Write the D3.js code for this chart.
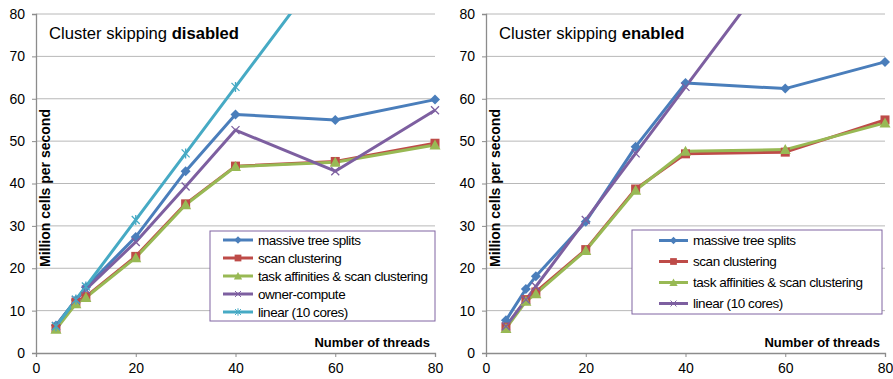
<!DOCTYPE html>
<html>
<head>
<meta charset="utf-8">
<script src="https://cdn.jsdelivr.net/npm/d3@7"></script>
<style>
  html, body { margin: 0; padding: 0; background: #fff; }
  svg { display: block; font-family: "Liberation Sans", Arial, sans-serif; }
</style>
</head>
<body>
<svg id="chart" width="893" height="379"></svg>
<script>
// Thread counts shared by both panels
const threads = [4, 8, 10, 20, 30, 40, 60, 80];
const xTicks = [0, 20, 40, 60, 80];
const yTicks = [0, 10, 20, 30, 40, 50, 60, 70, 80];

// Cluster skipping disabled
const disabledMassiveTreeSplits = [6.5, 12.5, 15.5, 27.4, 42.9, 56.3, 55.0, 59.8];
const disabledScanClustering    = [5.8, 12.0, 13.3, 22.8, 35.2, 44.1, 45.2, 49.5];
const disabledTaskAffinities    = [5.6, 11.6, 13.1, 22.5, 35.0, 44.0, 45.0, 49.1];
const disabledOwnerCompute      = [6.4, 12.5, 15.0, 26.2, 39.3, 52.6, 42.9, 57.3];
const disabledLinear            = [6.3, 12.6, 15.7, 31.4, 47.1, 62.8, 94.2, 125.6];

// Cluster skipping enabled
const enabledMassiveTreeSplits = [7.7, 15.1, 18.1, 31.0, 48.7, 63.7, 62.4, 68.7];
const enabledScanClustering    = [6.1, 12.6, 14.4, 24.4, 38.7, 47.0, 47.4, 55.0];
const enabledTaskAffinities    = [5.8, 12.2, 14.0, 24.2, 38.4, 47.6, 48.0, 54.3];
const enabledLinear            = [6.3, 12.6, 15.7, 31.4, 47.1, 62.8, 94.2, 125.6];

const COLORS = {
  blue: "#4A7EBB", red: "#BE4B48", green: "#98B954", purple: "#7D5FA0", cyan: "#46AAC4"
};

const svg = d3.select("#chart");

// Marker shapes centred on (0,0)
function marker(g, type, color) {
  if (type === "diamond") {
    g.append("path").attr("d", "M0,-5L5,0L0,5L-5,0Z").attr("fill", color);
  } else if (type === "square") {
    g.append("rect").attr("x", -4.5).attr("y", -4.5).attr("width", 9).attr("height", 9).attr("fill", color);
  } else if (type === "triangle") {
    g.append("path").attr("d", "M0,-5.5L5.5,4.5L-5.5,4.5Z").attr("fill", color);
  } else if (type === "x") {
    g.append("path").attr("d", "M-4,-4L4,4M-4,4L4,-4").attr("stroke", color).attr("stroke-width", 1.3).attr("fill", "none");
  } else if (type === "star") {
    g.append("path").attr("d", "M-4,-4L4,4M-4,4L4,-4M0,-5L0,5").attr("stroke", color).attr("stroke-width", 1.3).attr("fill", "none");
  }
}

function drawPanel(opts) {
  const g = svg.append("g").attr("transform", `translate(${opts.left},0)`);
  const width = 399, top = 14, bottom = 353;

  const x = d3.scaleLinear().domain([0, 80]).range([0, width]);
  const y = d3.scaleLinear().domain([0, 80]).range([bottom, top]);

  const clipId = "clip-" + opts.id;
  g.append("clipPath").attr("id", clipId)
    .append("rect").attr("x", -6).attr("y", top).attr("width", width + 12).attr("height", bottom - top + 6);

  // Horizontal gridlines
  g.append("g").selectAll("line").data(yTicks.filter(d => d > 0)).join("line")
    .attr("x1", 0).attr("x2", width)
    .attr("y1", d => y(d)).attr("y2", d => y(d))
    .attr("stroke", "#B8B8B8").attr("stroke-width", 1);

  // Y axis
  const yAxis = g.append("g").call(d3.axisLeft(y).tickValues(yTicks).tickSize(4).tickPadding(7));
  yAxis.select(".domain").attr("stroke", "#8C8C8C").attr("stroke-width", 1.3);
  yAxis.selectAll(".tick line").attr("stroke", "#8C8C8C");
  yAxis.selectAll("text").attr("font-size", 14).attr("fill", "#000")
    .attr("font-family", "Liberation Sans, Arial, sans-serif");

  // X axis
  const xAxis = g.append("g").attr("transform", `translate(0,${bottom})`)
    .call(d3.axisBottom(x).tickValues(xTicks).tickSize(4).tickPadding(6));
  xAxis.select(".domain").attr("stroke", "#8C8C8C").attr("stroke-width", 1.3);
  xAxis.selectAll(".tick line").attr("stroke", "#8C8C8C");
  xAxis.selectAll("text").attr("font-size", 14).attr("fill", "#000")
    .attr("font-family", "Liberation Sans, Arial, sans-serif");

  // Series lines, then markers on top
  const line = d3.line().x((d, i) => x(threads[i])).y(d => y(d));
  const plot = g.append("g").attr("clip-path", `url(#${clipId})`);
  opts.series.forEach(s => {
    plot.append("path").datum(s.values).attr("d", line)
      .attr("fill", "none").attr("stroke", s.color).attr("stroke-width", 3)
      .attr("stroke-linejoin", "round");
  });
  opts.series.forEach(s => {
    s.values.forEach((v, i) => {
      const m = plot.append("g").attr("transform", `translate(${x(threads[i])},${y(v)})`);
      marker(m, s.marker, s.color);
    });
  });

  // Title
  const title = g.append("text").attr("x", 13).attr("y", 39).attr("font-size", 16.6).attr("fill", "#000");
  title.append("tspan").text("Cluster skipping ");
  title.append("tspan").attr("font-weight", "bold").text(opts.titleBold);

  // Axis titles
  g.append("text")
    .attr("transform", `translate(${opts.yLabelX},188) rotate(-90)`)
    .attr("text-anchor", "middle").attr("font-size", 14).attr("font-weight", "bold")
    .text("Million cells per second");
  g.append("text").attr("x", opts.xLabelRight).attr("y", 347)
    .attr("text-anchor", "end").attr("font-size", 13).attr("font-weight", "bold")
    .text("Number of threads");

  // Legend
  const lg = g.append("g").attr("transform", `translate(${opts.legend.x},${opts.legend.y})`);
  lg.append("rect").attr("width", opts.legend.w).attr("height", opts.legend.h)
    .attr("fill", "#fff").attr("stroke", "#8064A2").attr("stroke-width", 1);
  opts.series.forEach((s, i) => {
    const cx = (opts.legend.lx1 + opts.legend.lx2) / 2;
    const row = lg.append("g").attr("transform", `translate(0,${opts.legend.first + i * opts.legend.step})`);
    row.append("line").attr("x1", opts.legend.lx1).attr("x2", opts.legend.lx2)
      .attr("stroke", s.color).attr("stroke-width", 3);
    const m = row.append("g").attr("transform", `translate(${cx},0) scale(0.75)`);
    marker(m, s.marker, s.color);
    row.append("text").attr("x", opts.legend.tx).attr("y", 4.8)
      .attr("font-size", 13.5).attr("letter-spacing", -0.45).attr("fill", "#000").text(s.name);
  });
}

drawPanel({
  id: "disabled", left: 36, titleBold: "disabled", yLabelX: 14, xLabelRight: 394,
  legend: { x: 174, y: 231, w: 225, h: 90, first: 9, step: 18, lx1: 13, lx2: 43, tx: 48 },
  series: [
    { name: "massive tree splits", values: disabledMassiveTreeSplits, color: COLORS.blue, marker: "diamond" },
    { name: "scan clustering", values: disabledScanClustering, color: COLORS.red, marker: "square" },
    { name: "task affinities & scan clustering", values: disabledTaskAffinities, color: COLORS.green, marker: "triangle" },
    { name: "owner-compute", values: disabledOwnerCompute, color: COLORS.purple, marker: "x" },
    { name: "linear (10 cores)", values: disabledLinear, color: COLORS.cyan, marker: "star" }
  ]
});

drawPanel({
  id: "enabled", left: 486, titleBold: "enabled", yLabelX: 14, xLabelRight: 394,
  legend: { x: 146, y: 230, w: 250, h: 84, first: 10.5, step: 21, lx1: 27, lx2: 56, tx: 61 },
  series: [
    { name: "massive tree splits", values: enabledMassiveTreeSplits, color: COLORS.blue, marker: "diamond" },
    { name: "scan clustering", values: enabledScanClustering, color: COLORS.red, marker: "square" },
    { name: "task affinities & scan clustering", values: enabledTaskAffinities, color: COLORS.green, marker: "triangle" },
    { name: "linear (10 cores)", values: enabledLinear, color: COLORS.purple, marker: "x" }
  ]
});
</script>
</body>
</html>
